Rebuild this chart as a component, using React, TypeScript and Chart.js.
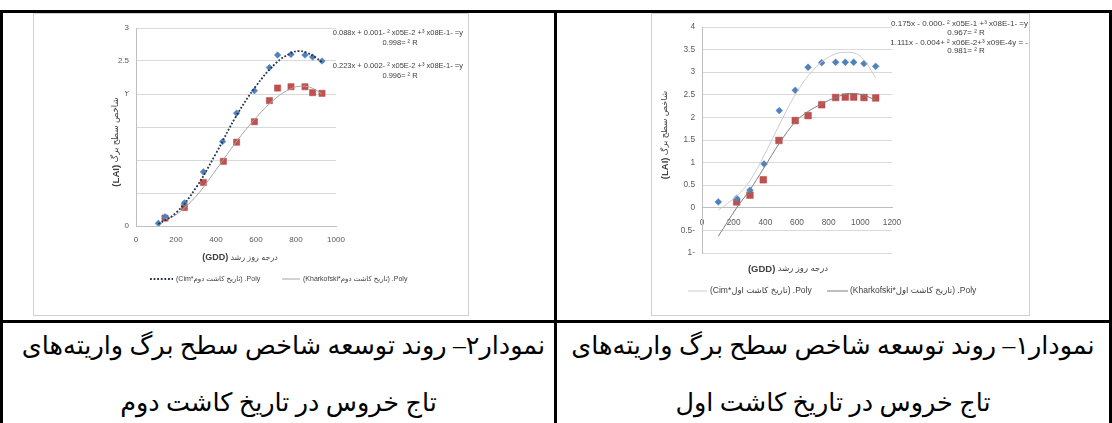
import React, { useEffect, useRef } from 'react';
import { Chart, registerables } from 'chart.js';

Chart.register(...registerables);

// ================= DATA: chart 2 (left cell, second planting date) =================
const c2CimGDD = [112, 145, 242, 337, 433, 503, 592, 667, 708, 775, 845, 883, 930];
const c2CimLAI = [0.04, 0.14, 0.35, 0.82, 1.28, 1.71, 2.05, 2.40, 2.59, 2.60, 2.59, 2.56, 2.50];
const c2KharGDD = [145, 242, 337, 437, 503, 592, 667, 708, 775, 845, 883, 930];
const c2KharLAI = [0.12, 0.28, 0.66, 0.98, 1.27, 1.58, 1.90, 2.09, 2.11, 2.11, 2.02, 2.01];
const c2CimTrendGDD = [112, 200, 300, 400, 500, 600, 700, 775, 812, 850, 900, 930];
const c2CimTrendLAI = [0.03, 0.20, 0.58, 1.10, 1.66, 2.12, 2.47, 2.62, 2.65, 2.63, 2.55, 2.48];
const c2KharTrendGDD = [145, 200, 300, 400, 500, 600, 700, 775, 830, 880, 930];
const c2KharTrendLAI = [0.10, 0.17, 0.45, 0.85, 1.27, 1.64, 1.94, 2.08, 2.12, 2.09, 2.00];
const c2XTickLabels = ['0', '200', '400', '600', '800', '1000'];
const c2YTickLabels = ['0', '', '', '', '۲', '2.5', '3'];
const c2LegendLabels = ['(Cim*تاریخ کاشت دوم) .Poly', '(Kharkofski*تاریخ کاشت دوم) .Poly'];
const c2Equations = [
  '0.088x + 0.001- ² x05E-2 +³ x08E-1- =y',
  '0.998= ² R',
  '0.223x + 0.002- ² x05E-2 +³ x08E-1- =y',
  '0.996= ² R',
];
const c2Caption = ['نمودار۲– روند توسعه شاخص سطح برگ واریته‌های', 'تاج خروس در تاریخ کاشت دوم'];

// ================= DATA: chart 1 (right cell, first planting date) =================
const c1CimGDD = [103, 219, 303, 392, 488, 589, 670, 756, 844, 905, 958, 1023, 1097];
const c1CimLAI = [0.13, 0.21, 0.39, 0.97, 2.15, 2.60, 3.11, 3.21, 3.22, 3.22, 3.22, 3.19, 3.13];
const c1KharGDD = [219, 303, 387, 486, 589, 670, 756, 844, 905, 958, 1023, 1097];
const c1KharLAI = [0.13, 0.28, 0.62, 1.49, 1.93, 2.04, 2.28, 2.44, 2.45, 2.45, 2.44, 2.43];
const c1CimTrendGDD = [103, 219, 303, 398, 493, 598, 703, 809, 903, 998, 1097];
const c1CimTrendLAI = [-0.05, 0.26, 0.60, 1.20, 1.87, 2.55, 3.05, 3.35, 3.44, 3.36, 2.88];
const c1KharTrendGDD = [103, 219, 303, 387, 493, 589, 670, 756, 844, 935, 1023, 1097];
const c1KharTrendLAI = [-0.63, 0.0, 0.40, 0.86, 1.45, 1.90, 2.13, 2.30, 2.44, 2.53, 2.49, 2.38];
const c1XTickLabels = ['0', '200', '400', '600', '800', '1000', '1200'];
const c1YTickLabels = ['1-', '0.5-', '0', '0.5', '1', '1.5', '2', '2.5', '3', '3.5', '4'];
const c1LegendLabels = ['(Cim*تاریخ کاشت اول) .Poly', '(Kharkofski*تاریخ کاشت اول) .Poly'];
const c1Equations = [
  '0.175x - 0.000- ² x05E-1 +³ x08E-1- =y',
  '0.967= ² R',
  '1.111x - 0.004+ ² x06E-2+³ x09E-4y = -',
  '0.981= ² R',
];
const c1Caption = ['نمودار۱– روند توسعه شاخص سطح برگ واریته‌های', 'تاج خروس در تاریخ کاشت اول'];

const yTitleFa = 'شاخص سطح برگ';
const xTitleFa = 'درجه روز رشد';

// ================= STYLE / LAYOUT =================
const FONT = '"Liberation Sans", "DejaVu Sans", Arial, sans-serif';
const BLUE = '#4F81BD';
const RED = '#C0504D';

const pts = (xs: number[], ys: number[]) => xs.map((x, i) => ({ x, y: ys[i] }));

type Spec = {
  box: { left: number; top: number; w: number; h: number };
  padding: { top: number; right: number; bottom: number; left: number };
  yWidth: number;
  xHeight?: number;
  xPos: any;
  xMax: number;
  yMin: number;
  yMax: number;
  xLabels: string[];
  yLabels: string[];
  tickFont: number;
  xTickPad: number;
  yTickPad: number;
  cim: [number[], number[]];
  khar: [number[], number[]];
  cimTrend: [number[], number[]];
  kharTrend: [number[], number[]];
  cimTrendStyle: { color: string; width: number; dash: number[] };
  kharTrendStyle: { color: string; width: number; dash: number[] };
  diamondR: number;
  squareR: number;
  legendLabels: string[];
  legendY: number;
  legendItems: { x0: number; x1: number; tx: number }[];
  legendFont: number;
  yTitle: { x: number; y: number; size: number };
  xTitle: { x: number; y: number; size: number };
  equations: string[];
  eqFont: number;
  eqPos: { x: number; y: number; align: CanvasTextAlign }[];
};

function drawParts(ctx: CanvasRenderingContext2D, parts: { t: string; bold: boolean; size: number }[], cx: number, cy: number) {
  const widths = parts.map((p) => {
    ctx.font = `${p.bold ? 'bold ' : ''}${p.size}px ${FONT}`;
    return ctx.measureText(p.t).width;
  });
  const total = widths.reduce((a, b) => a + b, 0);
  let x = cx - total / 2;
  ctx.textAlign = 'left';
  ctx.textBaseline = 'middle';
  parts.forEach((p, i) => {
    ctx.font = `${p.bold ? 'bold ' : ''}${p.size}px ${FONT}`;
    ctx.fillText(p.t, x, cy);
    x += widths[i];
  });
}

function textPlugin(s: Spec) {
  return {
    id: 'chartTexts',
    afterDraw(chart: any) {
      const ctx: CanvasRenderingContext2D = chart.ctx;
      ctx.save();
      ctx.fillStyle = '#404040';
      // y axis title (rotated)
      ctx.save();
      ctx.translate(s.yTitle.x, s.yTitle.y);
      ctx.rotate(-Math.PI / 2);
      drawParts(ctx, [
        { t: '(LAI)', bold: true, size: s.yTitle.size + 1 },
        { t: ' ' + yTitleFa, bold: false, size: s.yTitle.size },
      ], 0, 0);
      ctx.restore();
      // x axis title
      drawParts(ctx, [
        { t: '(GDD)', bold: true, size: s.xTitle.size + 1 },
        { t: ' ' + xTitleFa, bold: false, size: s.xTitle.size },
      ], s.xTitle.x, s.xTitle.y);
      // legend (trend lines only)
      s.legendItems.forEach((it, i) => {
        const ds = chart.data.datasets[i];
        ctx.save();
        ctx.strokeStyle = ds.borderColor;
        ctx.lineWidth = ds.borderWidth;
        ctx.setLineDash(ds.borderDash || []);
        ctx.beginPath();
        ctx.moveTo(it.x0, s.legendY);
        ctx.lineTo(it.x1, s.legendY);
        ctx.stroke();
        ctx.restore();
        ctx.font = `${s.legendFont}px ${FONT}`;
        ctx.textAlign = 'left';
        ctx.textBaseline = 'middle';
        ctx.fillStyle = '#404040';
        ctx.fillText(ds.label, it.tx, s.legendY);
      });
      // trendline equations
      ctx.font = `${s.eqFont}px ${FONT}`;
      ctx.textBaseline = 'middle';
      s.equations.forEach((t, i) => {
        const p = s.eqPos[i];
        ctx.textAlign = p.align;
        ctx.fillText(t, p.x, p.y);
      });
      ctx.restore();
    },
  };
}

function buildConfig(s: Spec): any {
  return {
    type: 'scatter',
    data: {
      datasets: [
        {
          label: s.legendLabels[0],
          data: pts(s.cimTrend[0], s.cimTrend[1]),
          showLine: true,
          borderColor: s.cimTrendStyle.color,
          borderWidth: s.cimTrendStyle.width,
          borderDash: s.cimTrendStyle.dash,
          pointRadius: 0,
          tension: 0.4,
          fill: false,
        },
        {
          label: s.legendLabels[1],
          data: pts(s.kharTrend[0], s.kharTrend[1]),
          showLine: true,
          borderColor: s.kharTrendStyle.color,
          borderWidth: s.kharTrendStyle.width,
          borderDash: s.kharTrendStyle.dash,
          pointRadius: 0,
          tension: 0.4,
          fill: false,
        },
        {
          label: 'Cim',
          data: pts(s.cim[0], s.cim[1]),
          pointStyle: 'rectRot',
          pointRadius: s.diamondR,
          backgroundColor: BLUE,
          borderColor: BLUE,
          borderWidth: 0.5,
        },
        {
          label: 'Kharkofski',
          data: pts(s.khar[0], s.khar[1]),
          pointStyle: 'rect',
          pointRadius: s.squareR,
          backgroundColor: RED,
          borderColor: '#B84744',
          borderWidth: 0.5,
        },
      ],
    },
    options: {
      responsive: false,
      animation: false,
      devicePixelRatio: 1,
      layout: { padding: s.padding },
      plugins: { legend: { display: false }, tooltip: { enabled: false }, title: { display: false } },
      scales: {
        x: {
          type: 'linear',
          position: s.xPos,
          min: 0,
          max: s.xMax,
          ticks: {
            stepSize: 200,
            autoSkip: false,
            maxRotation: 0,
            padding: s.xTickPad,
            color: '#595959',
            font: { family: FONT, size: s.tickFont },
            callback: (_v: any, i: number) => s.xLabels[i] ?? '',
          },
          grid: { display: false, drawTicks: false },
          border: { display: true, color: '#bfbfbf' },
          afterFit: s.xHeight ? (sc: any) => { sc.height = s.xHeight; } : undefined,
        },
        y: {
          type: 'linear',
          position: 'left',
          min: s.yMin,
          max: s.yMax,
          ticks: {
            stepSize: 0.5,
            autoSkip: false,
            padding: s.yTickPad,
            color: '#595959',
            font: { family: FONT, size: s.tickFont },
            callback: (_v: any, i: number) => s.yLabels[i] ?? '',
          },
          grid: { color: '#d9d9d9', drawTicks: false },
          border: { display: true, color: '#bfbfbf' },
          afterFit: (sc: any) => { sc.width = s.yWidth; },
        },
      },
    },
    plugins: [textPlugin(s)],
  };
}

const leftSpec: Spec = {
  box: { left: 34, top: 14, w: 434, h: 301 },
  padding: { top: 14, right: 132, bottom: 0, left: 0 },
  yWidth: 102,
  xHeight: 89,
  xPos: 'bottom',
  xMax: 1000,
  yMin: 0,
  yMax: 3,
  xLabels: c2XTickLabels,
  yLabels: c2YTickLabels,
  tickFont: 8,
  xTickPad: 9,
  yTickPad: 7,
  cim: [c2CimGDD, c2CimLAI],
  khar: [c2KharGDD, c2KharLAI],
  cimTrend: [c2CimTrendGDD, c2CimTrendLAI],
  kharTrend: [c2KharTrendGDD, c2KharTrendLAI],
  cimTrendStyle: { color: '#26334d', width: 1.8, dash: [1.8, 1.8] },
  kharTrendStyle: { color: '#a6a6a6', width: 1, dash: [] },
  diamondR: 3.3,
  squareR: 4.4,
  legendLabels: c2LegendLabels,
  legendY: 265,
  legendItems: [
    { x0: 116, x1: 139, tx: 142 },
    { x0: 248, x1: 266, tx: 269 },
  ],
  legendFont: 7,
  yTitle: { x: 82, y: 128, size: 8.6 },
  xTitle: { x: 206, y: 244, size: 8 },
  equations: c2Equations,
  eqFont: 7.5,
  eqPos: [
    { x: 429, y: 19, align: 'right' },
    { x: 366, y: 29, align: 'center' },
    { x: 429, y: 52, align: 'right' },
    { x: 366, y: 62, align: 'center' },
  ],
};

const rightSpec: Spec = {
  box: { left: 652, top: 14, w: 377, h: 301 },
  padding: { top: 13, right: 137, bottom: 62, left: 0 },
  yWidth: 50,
  xPos: { y: 0 },
  xMax: 1200,
  yMin: -1,
  yMax: 4,
  xLabels: c1XTickLabels,
  yLabels: c1YTickLabels,
  tickFont: 8.3,
  xTickPad: 10,
  yTickPad: 7,
  cim: [c1CimGDD, c1CimLAI],
  khar: [c1KharGDD, c1KharLAI],
  cimTrend: [c1CimTrendGDD, c1CimTrendLAI],
  kharTrend: [c1KharTrendGDD, c1KharTrendLAI],
  cimTrendStyle: { color: '#cccccc', width: 1, dash: [] },
  kharTrendStyle: { color: '#7f7f7f', width: 1, dash: [] },
  diamondR: 3.4,
  squareR: 4.7,
  legendLabels: c1LegendLabels,
  legendY: 277,
  legendItems: [
    { x0: 36, x1: 55, tx: 58 },
    { x0: 175, x1: 196, tx: 198 },
  ],
  legendFont: 8.5,
  yTitle: { x: 13, y: 121, size: 8.5 },
  xTitle: { x: 136, y: 255, size: 8.5 },
  equations: c1Equations,
  eqFont: 8,
  eqPos: [
    { x: 376, y: 10, align: 'right' },
    { x: 314, y: 19, align: 'center' },
    { x: 376, y: 29, align: 'right' },
    { x: 314, y: 37, align: 'center' },
  ],
};

function TrendChart({ spec }: { spec: Spec }) {
  const ref = useRef<HTMLCanvasElement>(null);
  useEffect(() => {
    const chart = new Chart(ref.current as HTMLCanvasElement, buildConfig(spec));
    return () => chart.destroy();
  }, [spec]);
  const b = spec.box;
  return (
    <canvas
      ref={ref}
      width={b.w}
      height={b.h}
      style={{ position: 'absolute', left: b.left, top: b.top, width: b.w, height: b.h }}
    />
  );
}

const black = (left: number, top: number, width: number, height: number) => (
  <div style={{ position: 'absolute', left, top, width, height, background: '#000' }} />
);

const captionStyle = (left: number, top: number, width: number): React.CSSProperties => ({
  position: 'absolute',
  left,
  top,
  width,
  textAlign: 'center',
  direction: 'rtl',
  fontFamily: '"Liberation Serif", "DejaVu Sans", serif',
  fontSize: 25.5,
  lineHeight: '32px',
  color: '#000',
  whiteSpace: 'nowrap',
});

export default function App() {
  return (
    <div style={{ position: 'absolute', left: 0, top: 0, width: 1112, height: 423, background: '#fff', overflow: 'hidden' }}>
      {/* chart frames */}
      <div style={{ position: 'absolute', left: 33, top: 13, width: 436, height: 303, border: '1px solid #d0d0d0', boxSizing: 'border-box' }} />
      <div style={{ position: 'absolute', left: 651, top: 13, width: 379, height: 303, border: '1px solid #d0d0d0', boxSizing: 'border-box' }} />
      <TrendChart spec={leftSpec} />
      <TrendChart spec={rightSpec} />
      {/* captions */}
      <div style={captionStyle(13, 330, 541)}>{c2Caption[0]}</div>
      <div style={captionStyle(3, 387, 551)}>{c2Caption[1]}</div>
      <div style={captionStyle(557, 330, 552)}>{c1Caption[0]}</div>
      <div style={captionStyle(557, 387, 552)}>{c1Caption[1]}</div>
      {/* table borders */}
      {black(0, 10, 1112, 3)}
      {black(0, 320, 1112, 3)}
      {black(0, 10, 3, 413)}
      {black(554, 10, 3, 413)}
      {black(1109, 10, 3, 413)}
    </div>
  );
}
